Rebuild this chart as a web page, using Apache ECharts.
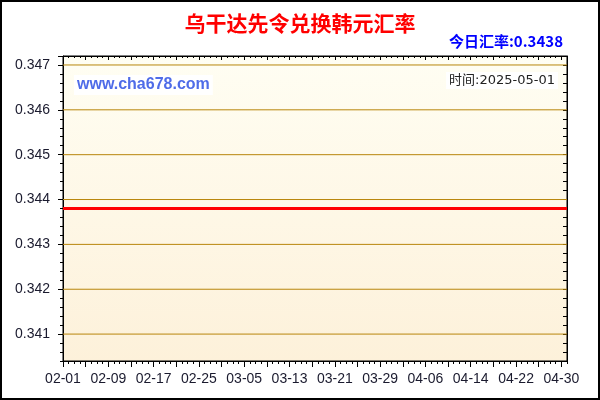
<!DOCTYPE html>
<html><head><meta charset="utf-8">
<script src="https://cdn.jsdelivr.net/npm/echarts@6/dist/echarts.min.js"></script>
<style>html,body{margin:0;padding:0;background:#fff}#c{width:600px;height:400px}</style>
</head><body><div id="c"></div>
<script>
const titleText = '乌干达先令兑换韩元汇率';
const rateText = '今日汇率:0.3438';
const siteText = 'www.cha678.com';
const dateText = '时间:2025-05-01';
const dates = [
 '02-01','02-02','02-03','02-04','02-05','02-06','02-07','02-08','02-09','02-10',
 '02-11','02-12','02-13','02-14','02-15','02-16','02-17','02-18','02-19','02-20',
 '02-21','02-22','02-23','02-24','02-25','02-26','02-27','02-28',
 '03-01','03-02','03-03','03-04','03-05','03-06','03-07','03-08','03-09','03-10',
 '03-11','03-12','03-13','03-14','03-15','03-16','03-17','03-18','03-19','03-20',
 '03-21','03-22','03-23','03-24','03-25','03-26','03-27','03-28','03-29','03-30','03-31',
 '04-01','04-02','04-03','04-04','04-05','04-06','04-07','04-08','04-09','04-10',
 '04-11','04-12','04-13','04-14','04-15','04-16','04-17','04-18','04-19','04-20',
 '04-21','04-22','04-23','04-24','04-25','04-26','04-27','04-28','04-29','04-30',
 '05-01'
];
const rates = [
 0.3438,0.3438,0.3438,0.3438,0.3438,0.3438,0.3438,0.3438,0.3438,0.3438,
 0.3438,0.3438,0.3438,0.3438,0.3438,0.3438,0.3438,0.3438,0.3438,0.3438,
 0.3438,0.3438,0.3438,0.3438,0.3438,0.3438,0.3438,0.3438,0.3438,0.3438,
 0.3438,0.3438,0.3438,0.3438,0.3438,0.3438,0.3438,0.3438,0.3438,0.3438,
 0.3438,0.3438,0.3438,0.3438,0.3438,0.3438,0.3438,0.3438,0.3438,0.3438,
 0.3438,0.3438,0.3438,0.3438,0.3438,0.3438,0.3438,0.3438,0.3438,0.3438,
 0.3438,0.3438,0.3438,0.3438,0.3438,0.3438,0.3438,0.3438,0.3438,0.3438,
 0.3438,0.3438,0.3438,0.3438,0.3438,0.3438,0.3438,0.3438,0.3438,0.3438,
 0.3438,0.3438,0.3438,0.3438,0.3438,0.3438,0.3438,0.3438,0.3438,0.3438
];
// grid line values (labelled)
const gridValues = [0.341, 0.342, 0.343, 0.344, 0.345, 0.346, 0.347];
const yTickMin = 0.341, yTickStep = 0.001;
// full plot range with minor ticks
const yMin = 0.3404, yMax = 0.3472, yStep = 0.0002;

// plot box (layout)
const PL = 63, PR = 33, PT = 56, PB = 39, H = 400;
const plotH = H - PT - PB;
const yPix = v => PT + plotH * (yMax - v) / (yMax - yMin);
const g2Bottom = H - yPix(yTickMin);

const chart = echarts.init(document.getElementById('c'), null, {renderer: 'canvas'});
const axisFont = 'Liberation Sans, Arial, sans-serif';
const labelColor = '#1a1a2e';
const gridColor = '#B8860B';
const isLabelled = v => Math.abs(v / yTickStep - Math.round(v / yTickStep)) < 1e-6;

const gridSeries = gridValues.map(v => ({
  type: 'line', xAxisIndex: 0, yAxisIndex: 0, silent: true,
  data: [[dates[0], v], [dates[dates.length - 1], v]],
  symbol: 'none', lineStyle: {color: gridColor, width: 1}, z: 1
}));

const option = {
  animation: false,
  backgroundColor: '#fff',
  title: {
    text: titleText,
    left: 'center', top: 8,
    textStyle: {color: '#FF0000', fontSize: 21, fontWeight: 'bold', fontFamily: 'Noto Sans CJK SC'}
  },
  grid: [
    {
      left: PL, right: PR, top: PT, bottom: PB,
      show: true, borderColor: '#000', borderWidth: 1,
      backgroundColor: new echarts.graphic.LinearGradient(0, 0, 0, 1, [
        {offset: 0, color: '#FFFEF3'}, {offset: 1, color: '#FDF1DA'}
      ])
    },
    {left: PL, right: PR, top: PT, bottom: g2Bottom, show: false}
  ],
  xAxis: [
    {
      type: 'category', data: dates, boundaryGap: false, position: 'bottom', gridIndex: 0,
      axisLine: {lineStyle: {color: '#000'}},
      axisTick: {show: true, interval: 0, length: 3, lineStyle: {color: '#000'}},
      axisLabel: {show: false},
      splitLine: {show: false}
    },
    {
      type: 'category', data: dates, boundaryGap: false, position: 'bottom', gridIndex: 0,
      axisLine: {show: false},
      axisTick: {show: true, interval: 3, length: 6, lineStyle: {color: '#000'}},
      axisLabel: {interval: 7, color: labelColor, fontSize: 14, fontFamily: axisFont, margin: 11},
      splitLine: {show: false}
    },
    {
      type: 'category', data: dates, boundaryGap: false, position: 'top', gridIndex: 0,
      axisLine: {lineStyle: {color: '#000'}},
      axisTick: {show: true, inside: true, interval: 0, length: 2, lineStyle: {color: '#000'}},
      axisLabel: {show: false},
      splitLine: {show: false}
    },
    {
      type: 'category', data: dates, boundaryGap: false, position: 'top', gridIndex: 0,
      axisLine: {show: false},
      axisTick: {show: true, inside: true, interval: 3, length: 4, lineStyle: {color: '#000'}},
      axisLabel: {show: false},
      splitLine: {show: false}
    },
    {type: 'category', data: dates, boundaryGap: false, gridIndex: 1, show: false}
  ],
  yAxis: [
    {
      type: 'value', min: yMin, max: yMax, interval: yStep, position: 'left', gridIndex: 0,
      axisLine: {show: true, lineStyle: {color: '#000'}},
      axisTick: {show: true, length: 3, lineStyle: {color: '#000'}},
      axisLabel: {show: false},
      splitLine: {show: false}
    },
    {
      type: 'value', min: yMin, max: yMax, interval: yStep, position: 'right', gridIndex: 0,
      axisLine: {show: true, lineStyle: {color: '#000'}},
      axisTick: {show: true, inside: true, length: 4, lineStyle: {color: '#000'}},
      axisLabel: {show: false},
      splitLine: {show: false}
    },
    {
      type: 'value', min: yTickMin, max: yMax, interval: yTickStep, position: 'left', gridIndex: 1,
      axisLine: {show: false},
      axisTick: {show: true, length: 5, lineStyle: {color: '#000'}},
      axisLabel: {
        color: labelColor, fontSize: 14, fontFamily: axisFont, margin: 13,
        formatter: v => isLabelled(v) ? v.toFixed(3) : ''
      },
      splitLine: {show: false}
    }
  ],
  graphic: [
    {
      type: 'rect', silent: true, z: 100,
      shape: {x: 1, y: 1, width: 598, height: 398},
      style: {fill: 'none', stroke: '#000', lineWidth: 2}
    },
    {
      type: 'text', right: 37, top: 34, z: 10,
      style: {text: rateText, fill: '#0000FF', font: 'bold 15px "Noto Sans CJK SC"'}
    },
    {
      type: 'text', left: 74, top: 75, z: 10,
      style: {
        text: siteText, fill: '#4F6CE8', font: 'bold 16px "Liberation Sans", Arial, sans-serif',
        backgroundColor: '#fff', padding: [2, 3, 2, 3]
      }
    },
    {
      type: 'text', right: 42, top: 72, z: 10,
      style: {
        text: dateText, fill: '#222', font: '13px "DejaVu Sans", "Noto Sans CJK SC"',
        backgroundColor: '#fff', padding: [2, 3, 2, 3]
      }
    }
  ],
  series: gridSeries.concat([
    {
      type: 'line', data: rates, xAxisIndex: 0, yAxisIndex: 0,
      symbol: 'none', lineStyle: {color: '#FF0000', width: 3},
      z: 3
    }
  ])
};
chart.setOption(option);
</script>
</body></html>
